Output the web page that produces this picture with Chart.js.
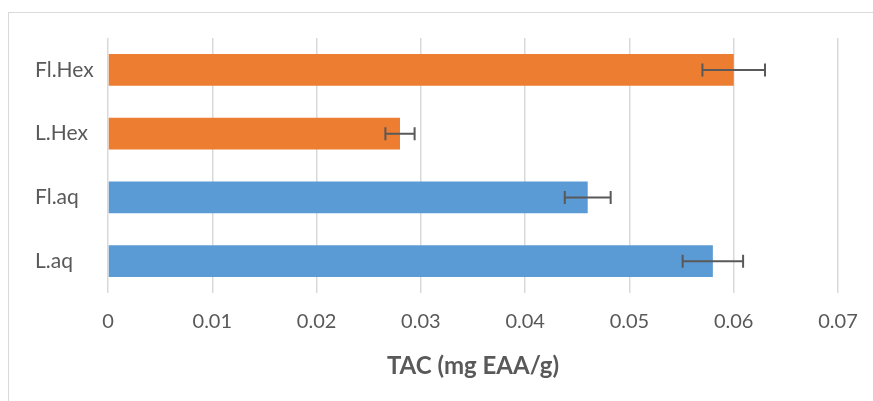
<!DOCTYPE html>
<html>
<head>
<meta charset="utf-8">
<script src="https://cdn.jsdelivr.net/npm/chart.js@4"></script>
<style>
  html, body { margin: 0; padding: 0; background: #ffffff; }
  #wrap { position: relative; width: 873px; height: 401px; }
  #frame { position: absolute; left: 8px; top: 12px; width: 880px; height: 400px; border-left: 1px solid #d9d9d9; border-top: 1px solid #d9d9d9; box-sizing: border-box; }
  canvas { position: absolute; left: 0; top: 0; }
</style>
</head>
<body>
<div id="wrap">
  <div id="frame"></div>
  <canvas id="c" width="873" height="401"></canvas>
</div>
<script>
const categories = ["Fl.Hex", "L.Hex", "Fl.aq", "L.aq"];
const values = [0.060, 0.028, 0.046, 0.058];
const errors = [0.0030, 0.0014, 0.0022, 0.0029];
const barColors = ["#ED7D31", "#ED7D31", "#5B9BD5", "#5B9BD5"];
const xTicks = [0, 0.01, 0.02, 0.03, 0.04, 0.05, 0.06, 0.07];
const xTitle = "TAC (mg EAA/g)";

const FONT = "Lato, 'Liberation Sans', sans-serif";
const TEXT = "#595959";

const errorBars = {
  id: 'errorBars',
  afterDatasetsDraw(chart) {
    const ctx = chart.ctx;
    const xs = chart.scales.x;
    const meta = chart.getDatasetMeta(0);
    ctx.save();
    ctx.strokeStyle = "#595959";
    ctx.lineWidth = 2;
    meta.data.forEach((bar, i) => {
      const y = bar.y;
      const x1 = xs.getPixelForValue(values[i] - errors[i]);
      const x2 = xs.getPixelForValue(values[i] + errors[i]);
      ctx.beginPath();
      ctx.moveTo(x1, y); ctx.lineTo(x2, y);
      ctx.moveTo(x1, y - 6.5); ctx.lineTo(x1, y + 6.5);
      ctx.moveTo(x2, y - 6.5); ctx.lineTo(x2, y + 6.5);
      ctx.stroke();
    });
    ctx.restore();
  }
};

new Chart(document.getElementById('c'), {
  type: 'bar',
  data: {
    labels: categories,
    datasets: [{
      data: values,
      backgroundColor: barColors,
      borderWidth: 0,
      barPercentage: 1.0,
      categoryPercentage: 0.5
    }]
  },
  options: {
    indexAxis: 'y',
    responsive: false,
    animation: false,
    devicePixelRatio: 1,
    layout: { padding: { left: 35, top: 38, right: 35, bottom: 0 } },
    plugins: { legend: { display: false }, tooltip: { enabled: false } },
    scales: {
      x: {
        min: 0, max: 0.07,
        afterBuildTicks(scale) { scale.ticks = xTicks.map(v => ({ value: v })); },
        afterFit(scale) { scale.height = 108; scale.paddingLeft = 0; scale.paddingRight = 0; },
        grid: { color: "#d9d9d9", lineWidth: 1.5, drawTicks: false },
        border: { display: false },
        ticks: {
          color: TEXT, padding: 17,
          font: { family: FONT, size: 20 },
          maxRotation: 0,
          callback: (v) => String(v)
        },
        title: {
          display: true, text: xTitle, color: TEXT,
          font: { family: FONT, size: 24, weight: 'bold' },
          padding: { top: 0, bottom: 20 }
        }
      },
      y: {
        afterFit(scale) { scale.width = 73; },
        grid: { display: false, drawTicks: false },
        border: { display: false },
        ticks: {
          color: TEXT, crossAlign: 'far', padding: 10,
          font: { family: FONT, size: 21 }
        }
      }
    }
  },
  plugins: [errorBars]
});
</script>
</body>
</html>
